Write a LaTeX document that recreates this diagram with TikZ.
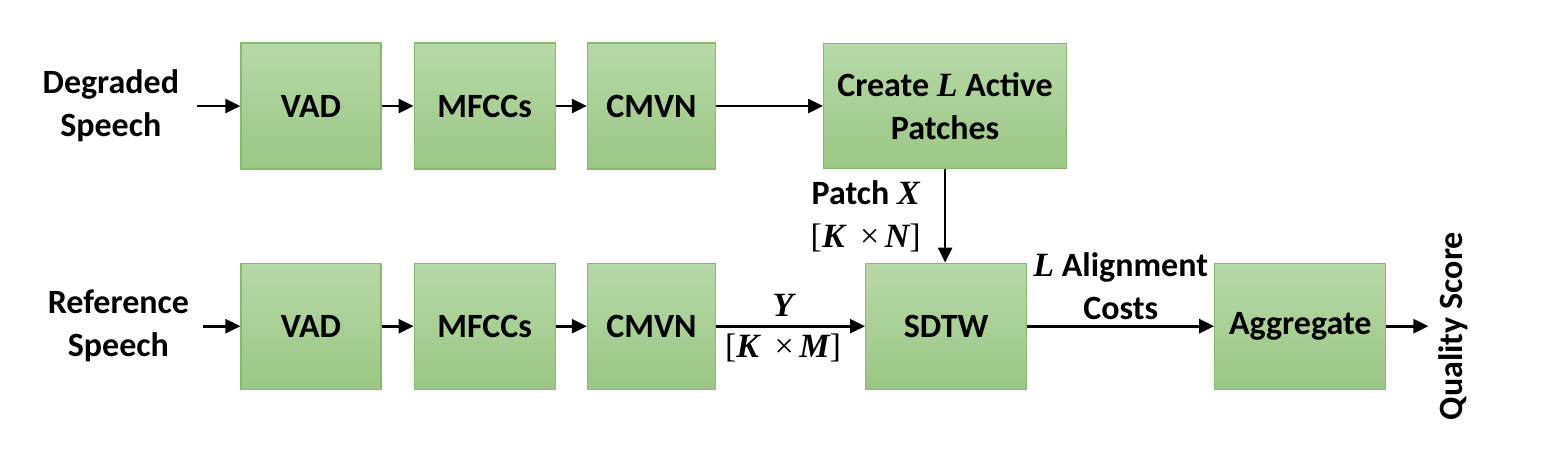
\documentclass[tikz,border=0pt]{standalone}
\usepackage{fontspec}
\setmainfont{Carlito}
\newfontfamily\symfont{Liberation Serif}
\usetikzlibrary{positioning,arrows.meta,calc}
\definecolor{boxtop}{RGB}{183,216,167}
\definecolor{boxbot}{RGB}{155,199,132}
\definecolor{boxline}{RGB}{135,187,108}
\tikzstyle{gbox}=[rectangle, draw=boxline, line width=0.6pt, top color=boxtop, bottom color=boxbot, minimum height=63pt, inner sep=2pt, align=center, font=\fontsize{17}{21.5}\selectfont\bfseries]
\tikzstyle{lbl}=[inner sep=0pt, align=center, font=\fontsize{17}{21.5}\selectfont\bfseries]
\tikzstyle{parrow}=[-{Triangle[length=7.5pt,width=7pt]}, line width=1.3pt]
\newcommand{\mv}[1]{{\symfont\bfseries\itshape #1}}
\newcommand{\mb}[1]{{\symfont\mdseries #1}}

\begin{document}
\begin{tikzpicture}[node distance=16pt]
\useasboundingbox (0,0) rectangle (776.5pt,-231.5pt);
\node (VADa) [gbox, minimum width=70pt] at (155.5pt,-53pt) {VAD};
\node (MFCCa) [gbox, minimum width=70.5pt, right=16pt of VADa] {MFCCs};
\node (CMVNa) [gbox, minimum width=64pt, right=15.5pt of MFCCa] {CMVN};
\node (PATCH) [gbox, minimum width=121.5pt, minimum height=62.5pt, right=53.5pt of CMVNa] {Create \mv{L} Active\\Patches};
\node (VADb) [gbox, minimum width=70pt, below=46.5pt of VADa] {VAD};
\node (MFCCb) [gbox, minimum width=70.5pt, right=16pt of VADb] {MFCCs};
\node (CMVNb) [gbox, minimum width=64pt, right=15.5pt of MFCCb] {CMVN};
\node (SDTW) [gbox, minimum width=80.5pt, right=74.5pt of CMVNb] {SDTW};
\node (AGG) [gbox, minimum width=85.5pt, right=93.5pt of SDTW] {Aggregate};
\node (DEG) [lbl, inner xsep=9pt, left=21.5pt of VADa] {Degraded\\Speech};
\node (REF) [lbl, inner xsep=7pt, left=18.5pt of VADb] {Reference\\Speech};
\node (QS) [lbl, rotate=90, inner sep=5pt, right=21pt of AGG, anchor=north] {Quality Score};
 \draw[parrow]   (DEG.east) -- (VADa.west) ;
 \draw[parrow]   (VADa.east) -- (MFCCa.west) ;
 \draw[parrow]   (MFCCa.east) -- (CMVNa.west) ;
 \draw[parrow]   (CMVNa.east) -- (PATCH.west) ;
 \draw[parrow]   (REF.east) -- (VADb.west) ;
 \draw[parrow]   (VADb.east) -- (MFCCb.west) ;
 \draw[parrow]   (MFCCb.east) -- (CMVNb.west) ;
 \draw[parrow]   (CMVNb.east) -- node[lbl, above=4pt, pos=0.45] {\mv{Y}} node[lbl, below=3pt, pos=0.45] {\mb{[}\mv{K}\ \ \mb{×}\,\mv{M}\mb{]}} (SDTW.west) ;
 \draw[parrow]   (PATCH.south) -- node[lbl, left=11.5pt] {Patch \mv{X}\\\mb{[}\mv{K}\ \ \mb{×}\,\mv{N}\mb{]}} (PATCH.south |- SDTW.north) ;
 \draw[parrow]   (SDTW.east) -- node[lbl, above=2.5pt] {\mv{L} Alignment\\Costs} (AGG.west) ;
 \draw[parrow]   (AGG.east) -- (QS.north) ;
\end{tikzpicture}
\end{document}
